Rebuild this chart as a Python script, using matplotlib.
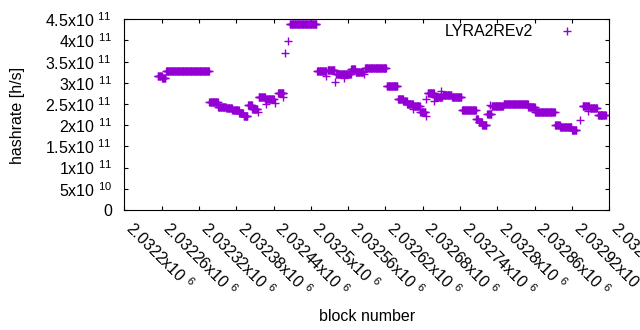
import matplotlib
matplotlib.use("Agg")
import matplotlib.pyplot as plt
import numpy as np

plt.rcParams['font.family'] = ['Liberation Sans', 'DejaVu Sans']
plt.rcParams['mathtext.default'] = 'regular'
FS = 11.5

# runs of consecutive blocks with (almost) the same hashrate estimate
run_first = [2032254, 2032261, 2032267, 2032337, 2032351, 2032364, 2032374, 2032385,
             2032392, 2032399, 2032406, 2032416, 2032427, 2032447, 2032466, 2032510,
             2032527, 2032540, 2032558, 2032565, 2032572, 2032587, 2032622, 2032640,
             2032649, 2032655, 2032666, 2032676, 2032688, 2032699, 2032712, 2032727,
             2032743, 2032766, 2032770, 2032776, 2032784, 2032791, 2032810, 2032850,
             2032861, 2032893, 2032901, 2032920, 2032937, 2032949, 2032962]
run_last = [2032260, 2032266, 2032336, 2032350, 2032363, 2032373, 2032384, 2032391,
            2032398, 2032405, 2032414, 2032426, 2032440, 2032456, 2032509, 2032524,
            2032538, 2032557, 2032564, 2032571, 2032584, 2032621, 2032639, 2032648,
            2032654, 2032664, 2032675, 2032684, 2032698, 2032711, 2032726, 2032742,
            2032765, 2032769, 2032775, 2032782, 2032790, 2032809, 2032849, 2032860,
            2032892, 2032900, 2032919, 2032927, 2032947, 2032960, 2032974]
run_rate = [3.17e11, 3.11e11, 3.29e11, 2.56e11, 2.44e11, 2.40e11, 2.35e11, 2.29e11,
            2.22e11, 2.48e11, 2.39e11, 2.66e11, 2.61e11, 2.75e11, 4.40e11, 3.29e11,
            3.31e11, 3.21e11, 3.22e11, 3.32e11, 3.26e11, 3.34e11, 2.92e11, 2.61e11,
            2.57e11, 2.50e11, 2.46e11, 2.32e11, 2.75e11, 2.67e11, 2.71e11, 2.67e11,
            2.37e11, 2.15e11, 2.08e11, 2.00e11, 2.26e11, 2.45e11, 2.51e11, 2.44e11,
            2.31e11, 2.00e11, 1.96e11, 1.89e11, 2.45e11, 2.41e11, 2.23e11]

# single blocks that stand out
single_block = [2032415, 2032428, 2032443, 2032456, 2032459, 2032463, 2032525, 2032539,
                2032554, 2032585, 2032665, 2032685, 2032686, 2032698, 2032709, 2032788,
                2032933, 2032946, 2032966]
single_rate = [2.32e11, 2.51e11, 2.52e11, 2.66e11, 3.71e11, 3.98e11, 3.17e11, 3.02e11,
               3.11e11, 3.21e11, 2.39e11, 2.22e11, 2.63e11, 2.57e11, 2.81e11, 2.48e11,
               2.12e11, 2.34e11, 2.24e11]

xtick_vals = [2032200 + 60 * i for i in range(14)]
xtick_mant = ['2.0322', '2.03226', '2.03232', '2.03238', '2.03244', '2.0325', '2.03256',
              '2.03262', '2.03268', '2.03274', '2.0328', '2.03286', '2.03292', '2.03298']
ytick_vals = [0, 0.5e11, 1e11, 1.5e11, 2e11, 2.5e11, 3e11, 3.5e11, 4e11, 4.5e11]
ytick_text = ['0', '5x10 $^{10}$', '1x10 $^{11}$', '1.5x10 $^{11}$', '2x10 $^{11}$',
              '2.5x10 $^{11}$', '3x10 $^{11}$', '3.5x10 $^{11}$', '4x10 $^{11}$',
              '4.5x10 $^{11}$']

blocks = []
rates = []
for a, b, r in zip(run_first, run_last, run_rate):
    n = b - a + 1
    blocks += list(range(a, b + 1))
    rates += [r] * n
blocks += single_block
rates += single_rate

fig = plt.figure(figsize=(6.4, 3.3), dpi=100)
ax = fig.add_axes([124.3 / 640, 1 - 210 / 330, 485 / 640, 190.7 / 330])

ax.plot(blocks, rates, linestyle='none', marker='+', color='#9400d3',
        markersize=5.3, markeredgewidth=1.0, label='LYRA2REv2')

ax.set_xlim(2032200, 2032980)
ax.set_ylim(0, 4.5e11)

ax.set_xticks(xtick_vals)
ax.set_xticklabels([m + 'x10 $^{6}$' for m in xtick_mant], rotation=-45,
                   ha='left', va='baseline', rotation_mode='anchor', fontsize=FS)
ax.set_yticks(ytick_vals)
ax.set_yticklabels(ytick_text, fontsize=FS)
ax.tick_params(direction='in', length=3, width=0.8, top=True, right=True)
ax.tick_params(axis='x', pad=14)
ax.tick_params(axis='y', pad=9)

ax.set_ylabel('hashrate [h/s]', fontsize=FS, va='baseline')
ax.yaxis.set_label_coords(-0.2109, 0.4966)
ax.set_xlabel('block number', fontsize=FS, va='baseline')
ax.xaxis.set_label_coords(0.5, -0.582)

ax.legend(loc='center right', bbox_to_anchor=(0.9464, 0.9345), frameon=False,
          markerfirst=False, handlelength=2.0, handletextpad=1.125, borderpad=0,
          borderaxespad=0, fontsize=FS, numpoints=1)

fig.savefig('out.png', dpi=100)
